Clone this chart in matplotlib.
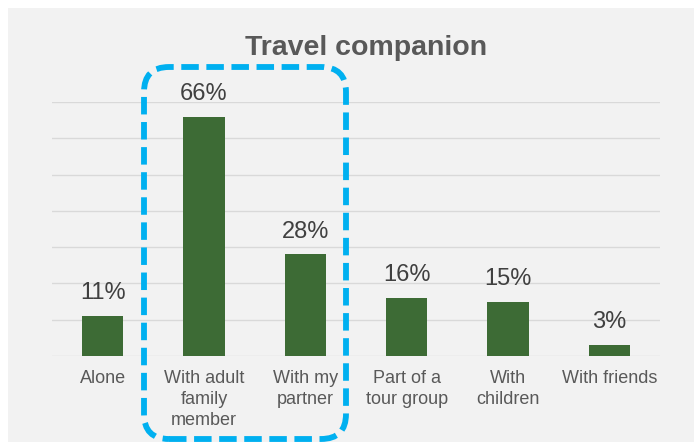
import matplotlib.pyplot as plt
from matplotlib.patches import Rectangle, FancyBboxPatch

plt.rcParams['font.family'] = ['Liberation Sans', 'DejaVu Sans']

# data
categories = ['Alone', 'With adult\nfamily\nmember', 'With my\npartner',
              'Part of a\ntour group', 'With\nchildren', 'With friends']
values = [11, 66, 28, 16, 15, 3]
value_labels = ['11%', '66%', '28%', '16%', '15%', '3%']
title = 'Travel companion'

W, H = 694, 442
fig = plt.figure(figsize=(W / 100, H / 100), dpi=100)
fig.patch.set_facecolor('white')

# light grey chart area (white strip at top and left)
fig.patches.append(Rectangle((8 / W, 0), 1 - 8 / W, 1 - 8 / H,
                             transform=fig.transFigure, facecolor='#f2f2f2',
                             edgecolor='none', zorder=-1))

ax = fig.add_axes([52 / W, 1 - 356 / H, 608 / W, 254 / H])
ax.set_facecolor('none')
ax.set_zorder(1)

x = range(len(categories))
bars = ax.bar(x, values, width=0.41, color='#3d6b35', zorder=3)
for b, lab in zip(bars, value_labels):
    ax.annotate(lab, (b.get_x() + b.get_width() / 2, b.get_height()),
                xytext=(0, 12), textcoords='offset points',
                ha='center', va='baseline', fontsize=17, color='#404040')

ax.set_ylim(0, 70)
ax.set_xlim(-0.5, len(categories) - 0.5)
ax.set_yticks(range(0, 71, 10))
ax.set_yticklabels([])
ax.grid(axis='y', color='#d9d9d9', linewidth=1.0, zorder=0)
ax.tick_params(axis='both', length=0)
ax.tick_params(axis='x', pad=10)
ax.set_xticks(list(x))
ax.set_xticklabels(categories, fontsize=13, color='#595959', linespacing=1.32)
for s in ax.spines.values():
    s.set_visible(False)

fig.text(366.5 / W, 1 - 55 / H, title, ha='center', va='baseline',
         fontsize=20.5, fontweight='bold', color='#595959')

# dashed rounded highlight box (pixel coordinates)
box = FancyBboxPatch((144, H - 439), 346 - 144, 439 - 67,
                     boxstyle='round,pad=0,rounding_size=25',
                     transform=None, facecolor='none', edgecolor='#00b0f0',
                     linewidth=4.2, linestyle=(0, (3.0, 1.3)), zorder=5)
fig.patches.append(box)

fig.savefig('out.png', dpi=100)
